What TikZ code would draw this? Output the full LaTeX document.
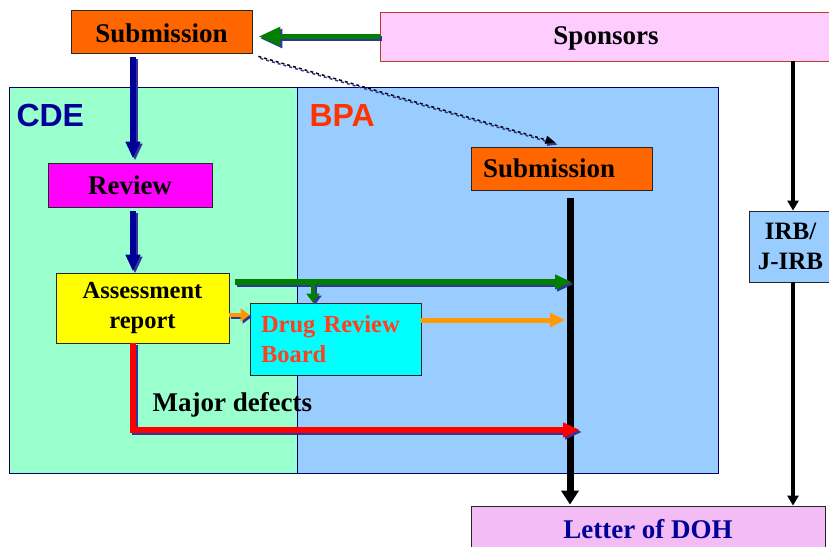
\documentclass[tikz,border=0pt]{standalone}
\usepackage{fontspec}
\setmainfont{Liberation Serif}
\setsansfont{Liberation Sans}
\usetikzlibrary{arrows.meta}
\definecolor{suborange}{HTML}{FF6600}
\definecolor{sponspink}{HTML}{FFCCFF}
\definecolor{sponsedge}{HTML}{B04020}
\definecolor{cdegreen}{HTML}{99FFCC}
\definecolor{bpablue}{HTML}{99CCFF}
\definecolor{reviewpink}{HTML}{FF00FF}
\definecolor{assyellow}{HTML}{FFFF00}
\definecolor{drbcyan}{HTML}{00FFFF}
\definecolor{letterpink}{HTML}{F4BCF4}
\definecolor{navyarrow}{HTML}{000099}
\definecolor{shadowblue}{HTML}{333399}
\definecolor{flowgreen}{HTML}{007F00}
\definecolor{floworange}{HTML}{FF9900}
\definecolor{drbred}{HTML}{FF3F1F}
\definecolor{bpared}{HTML}{FF3300}
\tikzset{
    box/.style={draw=black!85, line width=0.8pt, inner sep=0pt, align=center,
        font=\bfseries\fontsize{27}{30}\selectfont},
    smallbox/.style={box, font=\bfseries\fontsize{24.5}{30}\selectfont},
    region/.style={draw=black!60!blue, line width=0.8pt, inner sep=0pt},
    flow/.style={line width=5.5pt, -{Triangle[length=17pt,width=14pt]}},
    mainline/.style={draw=black, line width=7pt, -{Triangle[length=14pt,width=17pt]}},
    thinline/.style={draw=black, line width=3.2pt, -{Triangle[length=10pt,width=11pt]}}
}
% connector with a blue drop shadow
\newcommand\shadowdraw[2]{%
  \draw[#1, draw=shadowblue, transform canvas={shift={(2pt,-2pt)}}] #2;
  \draw[#1] #2;}
\begin{document}
\begin{tikzpicture}[x=1pt,y=-1pt]
\clip (0,0) rectangle (829,546);
\fill[white] (0,0) rectangle (829,546);
% the two offices
\node[region, fill=cdegreen, minimum width=288pt, minimum height=386pt] (cde) at (153,280) {};
\node[region, fill=bpablue, minimum width=421pt, minimum height=386pt] (bpa) at (507.5,280) {};
\node[anchor=west, text=navyarrow, font=\sffamily\bfseries\fontsize{32}{36}\selectfont] (cdelbl) at (13,115) {CDE};
\node[anchor=west, text=bpared, font=\sffamily\bfseries\fontsize{32}{36}\selectfont] (bpalbl) at (306,115) {BPA};
% boxes
\node[box, fill=suborange, minimum width=181pt, minimum height=43pt, text height=22pt] (sub) at (161.5,31.5) {Submission};
\node[box, draw=sponsedge, fill=sponspink, minimum width=452pt, minimum height=49pt, text height=22pt] (spons) at (606,36.5) {Sponsors};
\node[box, fill=reviewpink, minimum width=164pt, minimum height=44pt] (rev) at (130,185) {Review};
\node[smallbox, fill=assyellow, minimum width=173pt, minimum height=70pt] (ass) at (142.5,308) {Assessment\\report};
\node[smallbox, fill=drbcyan, text=drbred, align=left, text width=149pt, inner xsep=11pt, minimum height=72pt] (drb) at (335.5,339) {Drug Review\\Board};
\node[box, fill=suborange, align=left, text width=157pt, inner xsep=12pt, minimum height=43pt] (bsub) at (561.5,168.5) {Submission};
\node[box, fill=bpablue, minimum width=83pt, minimum height=71pt, font=\bfseries\fontsize{25}{30}\selectfont] (irb) at (790.5,246.5) {IRB/\\J-IRB};
\node[box, fill=letterpink, text=navyarrow, minimum width=354pt, minimum height=44pt, text height=22pt] (doh) at (648,528) {Letter of DOH};
\node[anchor=west, font=\bfseries\fontsize{27}{30}\selectfont] (major) at (149,405) {Major defects};
% free ends
\coordinate (gstart) at (235,282);
\coordinate (gend) at (572,282);
\coordinate (gbranch) at (313,282);
\coordinate (oend) at (565,320);
\coordinate (rend) at (580,430);
% connectors
\shadowdraw{flow, draw=flowgreen, -{Triangle[length=22pt,width=18pt]}, shorten >=6pt}{(spons.west) -- (spons.west -| sub.east)}
\shadowdraw{flow, draw=navyarrow, shorten <=4pt, shorten >=4pt}{([xshift=3pt]rev.north |- sub.south) -- ([xshift=3pt]rev.north)}
\shadowdraw{flow, draw=navyarrow, shorten <=4pt, shorten >=1pt}{([xshift=3pt]rev.south) -- ([xshift=3pt]rev.south |- ass.north)}
\shadowdraw{draw=black, line width=1.5pt, dashed, -{Triangle[length=10pt,width=8pt]}}{([shift={(6pt,-3pt)}]sub.south east) -- ([shift={(-6pt,4pt)}]bsub.north)}
\draw[mainline, shorten <=8pt, shorten >=1pt] ([xshift=8.5pt]bsub.south) -- ([xshift=8.5pt]bsub.south |- doh.north);
\draw[thinline] ([xshift=2.5pt]irb.north |- spons.south) -- ([xshift=2.5pt]irb.north);
\draw[thinline] ([xshift=2.5pt]irb.south) -- ([xshift=2.5pt]irb.south |- doh.north);
\shadowdraw{flow, draw=flowgreen}{(gstart) -- (gend)}
\shadowdraw{flow, draw=flowgreen, line width=4.5pt, -{Triangle[length=9pt,width=13pt]}}{(gbranch) -- (gbranch |- drb.north)}
\shadowdraw{flow, draw=floworange, line width=4.5pt, -{Triangle[length=9pt,width=13pt]}}{([yshift=-7pt]ass.east) -- ([yshift=-7pt]ass.east -| drb.west)}
\draw[draw=floworange, line width=5pt, -{Triangle[length=15pt,width=14pt]}] ([yshift=19pt]drb.east) -- (oend);
\shadowdraw{flow, draw=red, line width=5.5pt}{([xshift=-9.5pt]ass.south) |- (rend)}
\end{tikzpicture}
\end{document}
